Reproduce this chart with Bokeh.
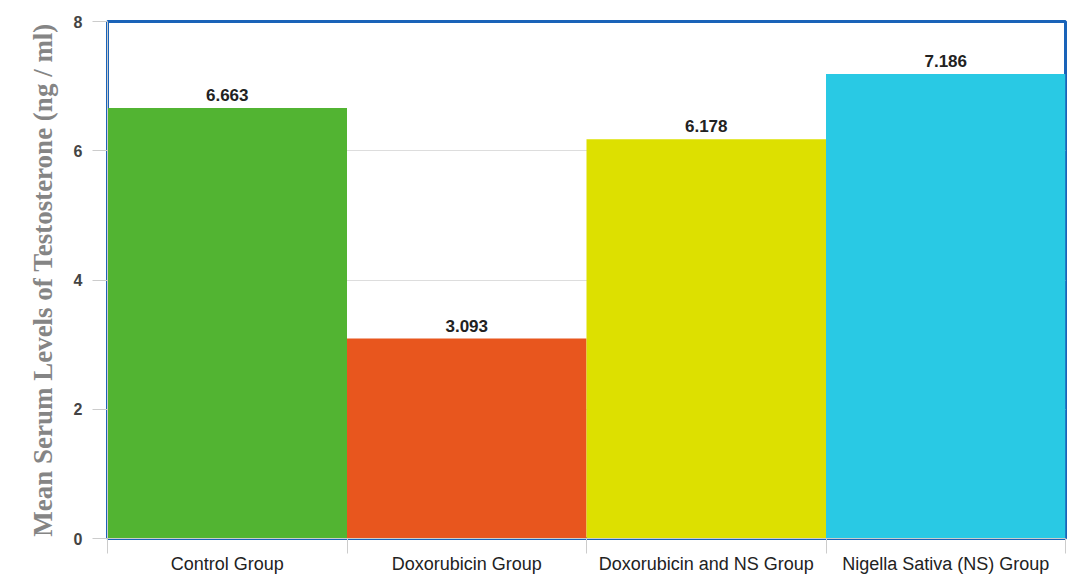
from bokeh.plotting import figure
from bokeh.models import FixedTicker, ColumnDataSource, LabelSet
from bokeh.core.properties import value
from bokeh.embed import file_html
from bokeh.resources import INLINE

groups = ["Control Group", "Doxorubicin Group", "Doxorubicin and NS Group", "Nigella Sativa (NS) Group"]
values = [6.663, 3.093, 6.178, 7.186]
colors = ["#52b432", "#e8561e", "#dde000", "#29c9e4"]
y_ticks = [0, 2, 4, 6, 8]

xs = [i + 0.5 for i in range(len(groups))]
src = ColumnDataSource(dict(x=xs, top=values, color=colors,
                            label=["%.3f" % v for v in values]))

p = figure(output_backend="svg", toolbar_location=None,
           frame_width=958, frame_height=517,
           x_range=(0, len(groups)), y_range=(0, 8),
           min_border_left=107, min_border_top=21, min_border_right=3, min_border_bottom=4)

p.background_fill_color = "white"
p.border_fill_color = "white"
p.outline_line_color = "#1a63b8"
p.outline_line_width = 3

p.vbar(x="x", top="top", width=1.0, bottom=0, color="color", source=src, line_color=None)

p.add_layout(LabelSet(x="x", y="top", text="label", source=src, text_align="center",
                      text_baseline="bottom", y_offset=7, text_font=value("Liberation Sans"),
                      text_font_style="bold", text_font_size="17px", text_color="#222222"))

# x axis
p.xaxis.ticker = FixedTicker(ticks=xs, minor_ticks=list(range(len(groups) + 1)))
p.xaxis.major_label_overrides = {x: g for x, g in zip(xs, groups)}
p.xaxis.major_tick_line_color = None
p.xaxis.major_tick_out = 0
p.xaxis.major_tick_in = 0
p.xaxis.minor_tick_line_color = "#cccccc"
p.xaxis.minor_tick_out = 15
p.xaxis.minor_tick_in = 0
p.xaxis.axis_line_color = "#cccccc"
p.xaxis.major_label_standoff = 0
p.xaxis.major_label_text_font = "Liberation Sans"
p.xaxis.major_label_text_font_size = "18px"
p.xaxis.major_label_text_color = "#222222"

# y axis
p.yaxis.ticker = FixedTicker(ticks=y_ticks)
p.yaxis.minor_tick_line_color = None
p.yaxis.major_tick_line_color = "#cccccc"
p.yaxis.major_tick_out = 15
p.yaxis.major_tick_in = 0
p.yaxis.axis_line_color = "#cccccc"
p.yaxis.major_label_standoff = 10
p.yaxis.major_label_text_font = "Liberation Sans"
p.yaxis.major_label_text_font_style = "bold"
p.yaxis.major_label_text_font_size = "16px"
p.yaxis.major_label_text_color = "#444444"
p.yaxis.axis_label = "Mean Serum Levels of Testosterone (ng / ml)"
p.yaxis.axis_label_text_font = "Liberation Serif"
p.yaxis.axis_label_text_font_style = "bold"
p.yaxis.axis_label_text_font_size = "27px"
p.yaxis.axis_label_text_color = "#858585"
p.yaxis.axis_label_standoff = 13

p.xgrid.grid_line_color = None
p.ygrid.grid_line_color = "#dddddd"
p.ygrid.ticker = FixedTicker(ticks=y_ticks)

open("out.html", "w").write(file_html(p, INLINE))
